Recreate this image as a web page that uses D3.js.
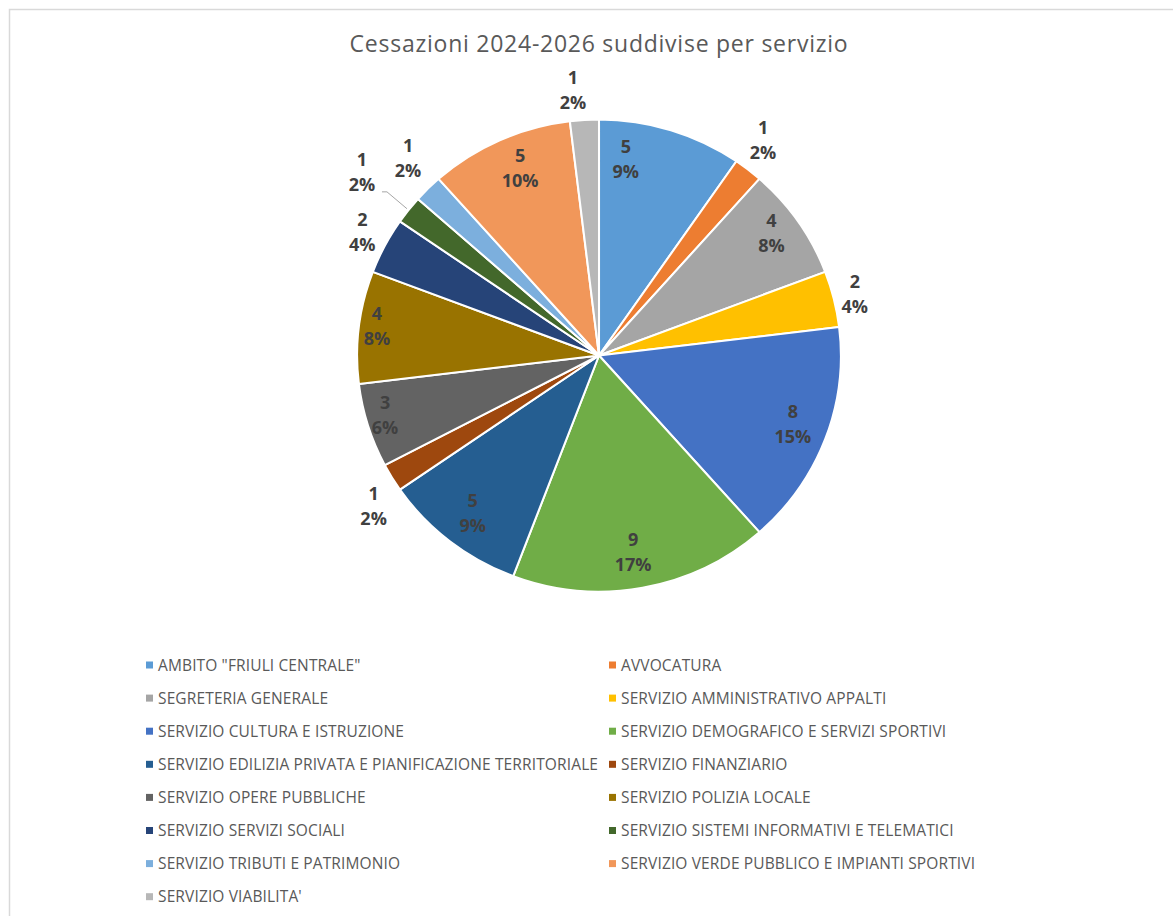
<!DOCTYPE html>
<html>
<head>
<meta charset="utf-8">
<script src="https://cdn.jsdelivr.net/npm/d3@7"></script>
<style>
  html, body { margin: 0; padding: 0; background: #fff; }
  svg { display: block; }
</style>
</head>
<body>
<svg id="chart" width="1173" height="916"></svg>
<script>
// Cessazioni 2024-2026 per servizio
const categories = [
  'AMBITO "FRIULI CENTRALE"',
  'AVVOCATURA',
  'SEGRETERIA GENERALE',
  'SERVIZIO AMMINISTRATIVO APPALTI',
  'SERVIZIO CULTURA E ISTRUZIONE',
  'SERVIZIO DEMOGRAFICO E SERVIZI SPORTIVI',
  'SERVIZIO EDILIZIA PRIVATA E PIANIFICAZIONE TERRITORIALE',
  'SERVIZIO FINANZIARIO',
  'SERVIZIO OPERE PUBBLICHE',
  'SERVIZIO POLIZIA LOCALE',
  'SERVIZIO SERVIZI SOCIALI',
  'SERVIZIO SISTEMI INFORMATIVI E TELEMATICI',
  'SERVIZIO TRIBUTI E PATRIMONIO',
  'SERVIZIO VERDE PUBBLICO E IMPIANTI SPORTIVI',
  "SERVIZIO VIABILITA'"
];
const values = [5, 1, 4, 2, 8, 9, 5, 1, 3, 4, 2, 1, 1, 5, 1];
const percentLabels = ['9%', '2%', '8%', '4%', '15%', '17%', '9%', '2%', '6%', '8%', '4%', '2%', '2%', '10%', '2%'];

const colors = [
  '#5B9BD5', '#ED7D31', '#A5A5A5', '#FFC000', '#4472C4',
  '#70AD47', '#255E91', '#9E480E', '#636363', '#997300',
  '#264478', '#43682B', '#7CAFDD', '#F1975A', '#B7B7B7'
];

// Label placement: distance from centre (fraction of radius) and angle shift (degrees)
const labelLayout = [
  { r: 0.838, shift: -9.7 },
  { r: 1.138, shift: -1.5 },
  { r: 0.88, shift: -1.3 },
  { r: 1.089, shift: 0 },
  { r: 0.852, shift: -0.9 },
  { r: 0.847, shift: 0.8 },
  { r: 0.847, shift: 0 },
  { r: 1.13, shift: -3.3 },
  { r: 0.92, shift: 1.3 },
  { r: 0.926, shift: 0.7 },
  { r: 1.11, shift: 0.5 },
  { r: 1.25, shift: 0.3, leader: true },
  { r: 1.149, shift: 1.6 },
  { r: 0.859, shift: 1.9 },
  { r: 1.13, shift: -2 }
];

const svg = d3.select('#chart');
const W = 1173, H = 916;

// chart area frame
svg.append('rect')
  .attr('x', 9.5).attr('y', 9.5)
  .attr('width', W + 20).attr('height', H + 20)
  .attr('fill', '#fff')
  .attr('stroke', '#D9D9D9').attr('stroke-width', 1.5);

// title
svg.append('text')
  .attr('x', 599).attr('y', 52)
  .attr('text-anchor', 'middle')
  .attr('font-family', 'Open Sans, sans-serif')
  .attr('font-size', 23)
  .attr('letter-spacing', 0.75)
  .attr('fill', '#595959')
  .text('Cessazioni 2024-2026 suddivise per servizio');

const cx = 599, cy = 355.5, R = 236, sx = 1.025;

const pie = d3.pie().sort(null).value(d => d)(values);
const arc = d3.arc().innerRadius(0).outerRadius(R);

const g = svg.append('g')
  .attr('transform', `translate(${cx},${cy}) scale(${sx},1)`);

g.selectAll('path')
  .data(pie)
  .join('path')
  .attr('d', arc)
  .attr('fill', (d, i) => colors[i])
  .attr('stroke', '#fff')
  .attr('stroke-width', 2)
  .attr('stroke-linejoin', 'round');

// data labels (value on first line, percentage on second)
const labels = svg.append('g');
pie.forEach((d, i) => {
  const lay = labelLayout[i];
  const mid = (d.startAngle + d.endAngle) / 2 + (lay.shift || 0) * Math.PI / 180;
  const x = cx + Math.sin(mid) * R * lay.r * sx;
  const y = cy - Math.cos(mid) * R * lay.r;
  const t = labels.append('text')
    .attr('x', x).attr('y', y)
    .attr('text-anchor', 'middle')
    .attr('font-family', 'Open Sans, sans-serif')
    .attr('font-weight', 700)
    .attr('font-size', 18)
    .attr('fill', '#404040');
  t.append('tspan').attr('x', x).attr('y', y - 6.2).text(values[i]);
  t.append('tspan').attr('x', x).attr('y', y + 18.8).text(percentLabels[i]);

  if (lay.leader) {
    const m0 = (d.startAngle + d.endAngle) / 2;
    const ex = cx + Math.sin(m0) * (R + 2) * sx;
    const ey = cy - Math.cos(m0) * (R + 2);
    const lx = x + 20, ly = y + 19.5;
    labels.append('polyline')
      .attr('points', `${lx},${ly} ${lx + 5},${ly} ${ex},${ey}`)
      .attr('fill', 'none')
      .attr('stroke', '#A6A6A6')
      .attr('stroke-width', 1);
  }
});

// legend in two columns
const legend = svg.append('g')
  .attr('font-family', 'Open Sans, sans-serif')
  .attr('font-size', 15.5)
  .attr('letter-spacing', 0.13)
  .attr('fill', '#595959');
const colX = [146, 609], row0 = 665, rowStep = 33.1;
categories.forEach((c, i) => {
  const col = i % 2, row = Math.floor(i / 2);
  const x = colX[col], y = row0 + row * rowStep;
  legend.append('rect')
    .attr('x', x).attr('y', y - 3.5)
    .attr('width', 7).attr('height', 7)
    .attr('fill', colors[i]);
  legend.append('text')
    .attr('x', x + 12).attr('y', y + 5.5)
    .text(c);
});
</script>
</body>
</html>
